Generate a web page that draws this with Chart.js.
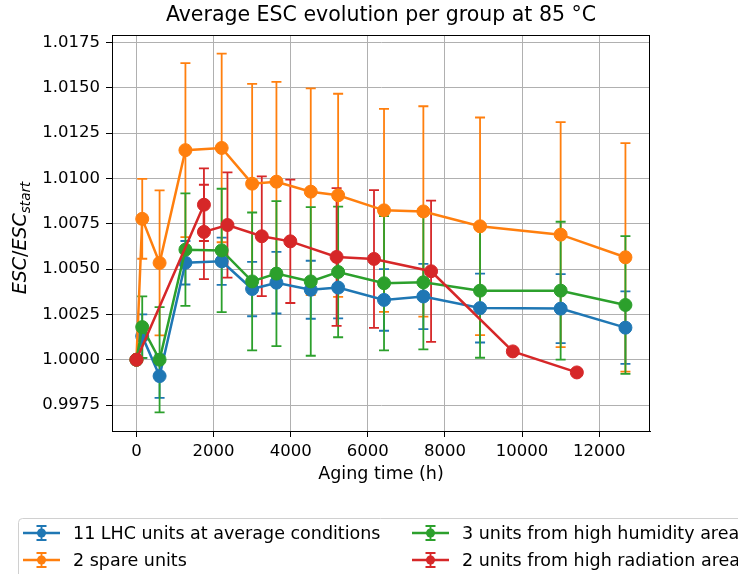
<!DOCTYPE html>
<html>
<head>
<meta charset="utf-8">
<script src="https://cdn.jsdelivr.net/npm/chart.js@4"></script>
<style>
  html, body { margin: 0; padding: 0; background: #fff; }
  #wrap { width: 738px; height: 574px; }
</style>
</head>
<body>
<div id="wrap"><canvas id="esc_chart" width="738" height="574"></canvas></div>
<script>
// aging hours for the three groups measured together
const hours = [0, 150, 600, 1270, 2210, 3000, 3630, 4520, 5230, 6420, 7440, 8910, 11000, 12680];

const lhc = [1.0000, 1.0013, 0.9991, 1.00535, 1.00543, 1.0039, 1.00425, 1.00386, 1.00398, 1.0033, 1.00349, 1.00285, 1.00282, 1.00177];
const lhcErr = [0, 0.0012, 0.0012, 0.0012, 0.0013, 0.0015, 0.0017, 0.0016, 0.0017, 0.0017, 0.0018, 0.0019, 0.0019, 0.0020];

const spare = [1.0000, 1.00777, 1.00534, 1.01156, 1.01168, 1.00971, 1.00982, 1.00927, 1.00907, 1.00824, 1.00818, 1.00736, 1.0069, 1.00565];
const spareErr = [0, 0.0022, 0.0040, 0.0048, 0.0052, 0.0055, 0.0055, 0.0057, 0.0056, 0.0056, 0.0058, 0.0060, 0.0062, 0.0063];

const humid = [1.0000, 1.0018, 1.0000, 1.00607, 1.00603, 1.00432, 1.00475, 1.00432, 1.00484, 1.00422, 1.00427, 1.00381, 1.00381, 1.00302];
const humidErr = [0, 0.0017, 0.0029, 0.0031, 0.0034, 0.0038, 0.0040, 0.0041, 0.0036, 0.0037, 0.0037, 0.0037, 0.0038, 0.0038];

// radiation group was measured on its own schedule
const radHours = [0, 1750, 1750, 2360, 3250, 3990, 5190, 6160, 7640, 9760, 11420];
const rad = [1.0000, 1.00855, 1.00705, 1.00743, 1.00681, 1.00653, 1.00567, 1.00556, 1.00488, 1.00046, 0.99930];
const radErr = [0, 0.0020, 0.0026, 0.0029, 0.0033, 0.0034, 0.0038, 0.0038, 0.0039, 0, 0];

const xTicks = [0, 2000, 4000, 6000, 8000, 10000, 12000];
const yTicks = [0.9975, 1.0000, 1.0025, 1.0050, 1.0075, 1.0100, 1.0125, 1.0150, 1.0175];

const chart_colours = ["#1f77b4", "#ff7f0e", "#2ca02c", "#d62728"];
const font_family = "'DejaVu Sans', sans-serif";

const series = [
  { label: "11 LHC units at average conditions", x: hours, y: lhc, err: lhcErr },
  { label: "2 spare units", x: hours, y: spare, err: spareErr },
  { label: "3 units from high humidity area", x: hours, y: humid, err: humidErr },
  { label: "2 units from high radiation area", x: radHours, y: rad, err: radErr }
];

const chart_datasets = series.map((s, i) => ({
  label: s.label,
  data: s.x.map((h, j) => ({ x: h, y: s.y[j] })),
  borderColor: chart_colours[i],
  backgroundColor: chart_colours[i],
  borderWidth: 2.5,
  pointRadius: 6.5,
  pointHoverRadius: 6.5,
  pointBorderWidth: 1,
  pointBorderColor: chart_colours[i],
  pointBackgroundColor: chart_colours[i],
  tension: 0,
  order: series.length - 1 - i
}));

// error bars go under every line, like matplotlib does
const errorBars = {
  id: "errorBars",
  beforeDatasetsDraw(chart) {
    const ctx = chart.ctx;
    const xs = chart.scales.x, ys = chart.scales.y;
    ctx.save();
    ctx.lineWidth = 1.8;
    series.forEach((s, i) => {
      ctx.strokeStyle = chart_colours[i];
      s.err.forEach((e, j) => {
        if (!e) return;
        const px = xs.getPixelForValue(s.x[j]);
        const top = ys.getPixelForValue(s.y[j] + e);
        const bot = ys.getPixelForValue(s.y[j] - e);
        ctx.beginPath();
        ctx.moveTo(px, top); ctx.lineTo(px, bot);
        ctx.moveTo(px - 5, top); ctx.lineTo(px + 5, top);
        ctx.moveTo(px - 5, bot); ctx.lineTo(px + 5, bot);
        ctx.stroke();
      });
    });
    ctx.restore();
  }
};

const decorations = {
  id: "decorations",
  afterDraw(chart) {
    const ctx = chart.ctx;
    const a = chart.chartArea;
    ctx.save();

    // frame
    ctx.strokeStyle = "#000";
    ctx.lineWidth = 1;
    ctx.strokeRect(a.left + 0.5, a.top + 0.5, a.right - a.left - 1, a.bottom - a.top);

    // title
    ctx.fillStyle = "#000";
    ctx.font = "20.5px " + font_family;
    ctx.textAlign = "center";
    ctx.textBaseline = "middle";
    ctx.fillText("Average ESC evolution per group at 85 \u00B0C", (a.left + a.right) / 2, 16);

    // y label: ESC/ESC_start
    const parts = [
      { t: "ESC", f: "italic 19px " + font_family, dy: 0 },
      { t: "/", f: "19px " + font_family, dy: 0 },
      { t: "ESC", f: "italic 19px " + font_family, dy: 0 },
      { t: "start", f: "italic 13.5px " + font_family, dy: 4 }
    ];
    let total = 0;
    parts.forEach(p => { ctx.font = p.f; p.w = ctx.measureText(p.t).width; total += p.w; });
    ctx.translate(0, 238);
    ctx.rotate(-Math.PI / 2);
    ctx.textAlign = "left";
    ctx.textBaseline = "alphabetic";
    let u = -total / 2;
    parts.forEach(p => { ctx.font = p.f; ctx.fillText(p.t, u, 26 + p.dy); u += p.w; });
    ctx.setTransform(1, 0, 0, 1, 0, 0);

    // legend
    ctx.fillStyle = "rgba(255,255,255,0.8)";
    ctx.strokeStyle = "#d0d0d0";
    ctx.lineWidth = 1;
    ctx.beginPath();
    ctx.roundRect(18.5, 518.5, 740, 80, 4);
    ctx.fill();
    ctx.stroke();

    const slots = [[23, 533], [23, 560], [412, 533], [412, 560]];
    ctx.font = "17.5px " + font_family;
    ctx.textBaseline = "middle";
    slots.forEach(([lx, ly], k) => {
      const c = chart_colours[k];
      const mx = lx + 18.5;
      ctx.strokeStyle = c;
      ctx.fillStyle = c;
      ctx.lineWidth = 2.5;
      ctx.beginPath();
      ctx.moveTo(lx, ly); ctx.lineTo(lx + 37, ly);
      ctx.stroke();
      ctx.lineWidth = 1.8;
      ctx.beginPath();
      ctx.moveTo(mx, ly - 7); ctx.lineTo(mx, ly + 7);
      ctx.moveTo(mx - 5, ly - 7); ctx.lineTo(mx + 5, ly - 7);
      ctx.moveTo(mx - 5, ly + 7); ctx.lineTo(mx + 5, ly + 7);
      ctx.stroke();
      ctx.beginPath();
      ctx.arc(mx, ly, 4.5, 0, Math.PI * 2);
      ctx.fill();
      ctx.fillStyle = "#000";
      ctx.fillText(series[k].label, lx + 50, ly + 1);
    });
    ctx.restore();
  }
};

const ctx = document.getElementById("esc_chart").getContext("2d");

const esc_chart = new Chart(ctx, {
  type: "line",
  data: { datasets: chart_datasets },
  options: {
    responsive: false,
    animation: false,
    events: [],
    layout: { padding: { left: 0, top: 35, right: 88, bottom: 83 } },
    plugins: {
      legend: { display: false },
      title: { display: false },
      tooltip: { enabled: false }
    },
    scales: {
      x: {
        type: "linear",
        min: -634,
        max: 13317,
        afterBuildTicks: scale => { scale.ticks = xTicks.map(v => ({ value: v })); },
        afterFit: scale => { scale.height = 60; },
        grid: { color: "#b0b0b0", lineWidth: 1, tickColor: "#000", tickLength: 6, tickWidth: 1 },
        border: { display: true, color: "#000", width: 1 },
        ticks: {
          color: "#000",
          font: { family: font_family, size: 16.5 },
          padding: 5,
          maxRotation: 0,
          callback: v => String(v)
        },
        title: {
          display: true,
          text: "Aging time (h)",
          color: "#000",
          font: { family: font_family, size: 17.5 },
          padding: { top: 0, bottom: 6 }
        }
      },
      y: {
        type: "linear",
        min: 0.99607,
        max: 1.01791,
        afterBuildTicks: scale => { scale.ticks = yTicks.map(v => ({ value: v })); },
        afterFit: scale => { scale.width = 112; },
        grid: { color: "#b0b0b0", lineWidth: 1, tickColor: "#000", tickLength: 6, tickWidth: 1 },
        border: { display: true, color: "#000", width: 1 },
        ticks: {
          color: "#000",
          font: { family: font_family, size: 16.5 },
          padding: 6,
          callback: v => Number(v).toFixed(4)
        }
      }
    }
  },
  plugins: [errorBars, decorations]
});
</script>
</body>
</html>
